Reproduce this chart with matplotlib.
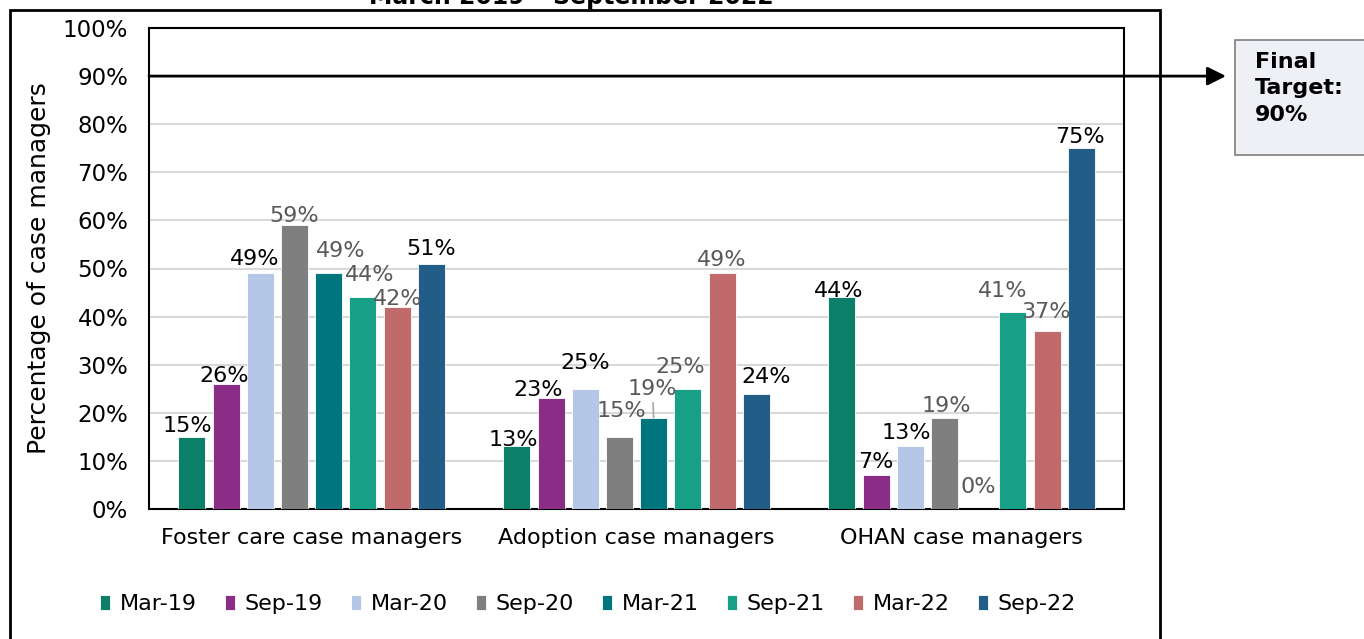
import matplotlib
matplotlib.use('Agg')
import matplotlib.pyplot as plt
from matplotlib.patches import Rectangle
import numpy as np

# ---------------- data ----------------
categories = ["Foster care case managers", "Adoption case managers", "OHAN case managers"]
series_names = ["Mar-19", "Sep-19", "Mar-20", "Sep-20", "Mar-21", "Sep-21", "Mar-22", "Sep-22"]
mar19 = [15, 13, 44]
sep19 = [26, 23, 7]
mar20 = [49, 25, 13]
sep20 = [59, 15, 19]
mar21 = [49, 19, 0]
sep21 = [44, 25, 41]
mar22 = [42, 49, 37]
sep22 = [51, 24, 75]
target_value = 90
target_text = "Final\nTarget:\n90%"
yticks = [0, 10, 20, 30, 40, 50, 60, 70, 80, 90, 100]
ytick_labels = [f"{t}%" for t in yticks]
title_text = "March 2019 \u2013 September 2022"
ylabel_text = "Percentage of case managers"

series_values = [mar19, sep19, mar20, sep20, mar21, sep21, mar22, sep22]

# ---------------- styles ----------------
colors = ["#0B7F68", "#8B2D86", "#B4C7E7", "#7F7F7F",
          "#00757D", "#17A086", "#C06A6B", "#215D87"]
BLACK_LBL = "#000000"
GRAY_LBL = "#595959"
label_colors = [BLACK_LBL, BLACK_LBL, BLACK_LBL, GRAY_LBL,
                GRAY_LBL, GRAY_LBL, GRAY_LBL, BLACK_LBL]
# label layout tweaks in pixels: (dx, gap above bar top) per [category][series]
label_offsets = [
    [(-4, 5), (-2, 2), (-6, 8), (0, 3), (12, 16), (7, 16), (1, 2), (0, 9)],
    [(-3, 0), (-13, 2), (0, 20), (2, 20), (-1, 23), (-8, 16), (0, 7), (10, 11)],
    [(-3, 0), (0, 7), (-4, 7), (2, 6), (0, 16), (-10, 15), (-1, 13), (-1, 5)],
]
leader_lines = {(1, 4)}

W, H = 1364, 639
fig = plt.figure(figsize=(W / 100, H / 100), dpi=100)
ax = fig.add_axes([149 / W, 1 - 509 / H, (1124 - 149) / W, (509 - 28) / H])

n = len(series_names)
slot = 34.2 / 325
bw = 27 / 325
x = np.arange(len(categories))

for i, (name, vals) in enumerate(zip(series_names, series_values)):
    xs = x + (i - (n - 1) / 2) * slot
    ax.bar(xs, vals, width=bw, color=colors[i], label=name, zorder=3,
           edgecolor="white", linewidth=0.6)
    for j, (xx, v) in enumerate(zip(xs, vals)):
        dx, gap = label_offsets[j][i]
        kw = {}
        if (j, i) in leader_lines:
            kw["arrowprops"] = dict(arrowstyle="-", color="#A6A6A6", lw=1.2,
                                    shrinkA=1, shrinkB=0)
        ax.annotate(f"{v}%", xy=(xx, v), xytext=(dx * 0.72, gap * 0.72),
                    textcoords="offset points", ha="center", va="baseline",
                    fontsize=16, color=label_colors[i], zorder=5, **kw)

ax.set_xlim(-0.5, len(categories) - 0.5)
ax.set_ylim(0, 100)
ax.set_yticks(yticks)
ax.set_yticklabels(ytick_labels)
ax.set_xticks(x)
ax.set_xticklabels(categories)
ax.tick_params(axis="y", length=0, pad=15, labelsize=16.5)
ax.tick_params(axis="x", length=0, pad=14, labelsize=16)
ax.grid(axis="y", color="#D9D9D9", lw=1.5, zorder=0)
ax.set_axisbelow(True)
for s in ax.spines.values():
    s.set_color("black")
    s.set_linewidth(1.5)
ax.set_ylabel(ylabel_text, fontsize=18)
ax.yaxis.set_label_coords(-0.1, 0.5)

# target arrow
ax.annotate("", xy=(1226 / W, target_value), xycoords=("figure fraction", "data"),
            xytext=(0, target_value), textcoords=("axes fraction", "data"),
            arrowprops=dict(arrowstyle="-|>", lw=2, color="black",
                            mutation_scale=28, shrinkA=0, shrinkB=0),
            annotation_clip=False, zorder=6)

# target box
fig.add_artist(Rectangle((1235 / W, 1 - 155 / H), 0.2, 115 / H,
                         transform=fig.transFigure, facecolor="#EEF0F5",
                         edgecolor="#7F7F7F", lw=1.2))
fig.text(1255 / W, 1 - 52 / H, target_text, ha="left", va="top",
         fontsize=16, fontweight="bold", linespacing=1.4)

# outer frame
fig.add_artist(Rectangle((10 / W, -0.05), 1150 / W, 1 - 10 / H + 0.05,
                         transform=fig.transFigure, facecolor="none",
                         edgecolor="black", lw=2, zorder=0))

# title (partially cut off at top, as in the reference)
fig.text(571 / W, 1 - 4 / H, title_text, ha="center", va="baseline",
         fontsize=17, fontweight="bold")

# legend
fig.legend(loc="center", bbox_to_anchor=(588 / W, 1 - 604 / H), ncol=n,
           frameon=False, fontsize=16, handlelength=0.45, handleheight=0.65,
           handletextpad=0.45, columnspacing=1.25, borderaxespad=0)

fig.savefig("out.png", dpi=100)
